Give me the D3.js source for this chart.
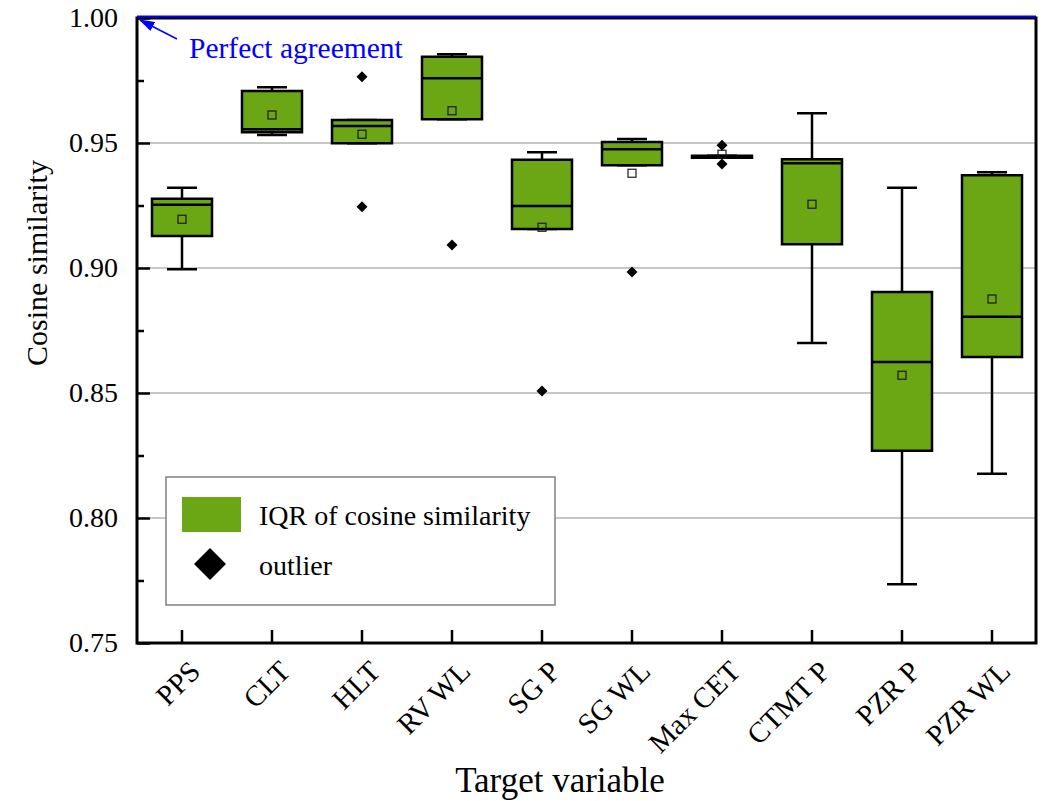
<html>
<head>
  <meta charset="utf-8">
  <title>Cosine similarity box plot</title>
  <script src="https://d3js.org/d3.v7.min.js"></script>
  <style>
    body { margin: 0; background: #ffffff; }
    text { font-family: "Liberation Serif", "Times New Roman", serif; }
  </style>
</head>
<body>
  <svg id="chart" width="1046" height="801"></svg>
  <script>
    // values
    var categories = ["PPS", "CLT", "HLT", "RV WL", "SG P", "SG WL", "Max CET", "CTMT P", "PZR P", "PZR WL"];
    var whiskerHigh = [0.9321, 0.9723, 0.9592, 0.9855, 0.9463, 0.9516, 0.9449, 0.9619, 0.9321, 0.9383];
    var q3 = [0.9277, 0.9708, 0.9592, 0.9845, 0.9433, 0.9504, 0.9449, 0.9435, 0.8904, 0.9371];
    var median = [0.9253, 0.9555, 0.9568, 0.9759, 0.9248, 0.9475, 0.9445, 0.9419, 0.8624, 0.8805];
    var q1 = [0.9128, 0.9543, 0.9499, 0.9595, 0.9156, 0.9411, 0.9441, 0.9095, 0.8269, 0.8644];
    var whiskerLow = [0.8995, 0.9532, 0.9499, 0.9595, 0.9156, 0.9411, 0.9441, 0.8700, 0.7735, 0.8177];
    var means = [0.9195, 0.9612, 0.9535, 0.9629, 0.9163, 0.9379, 0.9455, 0.9255, 0.8571, 0.8876];
    var outliers = [[], [], [0.9765, 0.9245], [0.9092], [0.8508], [0.8984], [0.9491, 0.9416], [], [], []];
    var yTicks = [0.75, 0.80, 0.85, 0.90, 0.95, 1.00];
    var yMinorTicks = [0.775, 0.825, 0.875, 0.925, 0.975];
    var gridTicks = [0.80, 0.85, 0.90, 0.95];
    var perfect = 1.00;

    var green = "#6ba614";
    var plotL = 137, plotR = 1036, plotT = 18, plotB = 643;

    var data = categories.map(function (c, i) {
      return { cat: c, hi: whiskerHigh[i], q3: q3[i], med: median[i], q1: q1[i], lo: whiskerLow[i], mean: means[i], out: outliers[i] };
    });

    var svg = d3.select("#chart");

    var xScale = d3.scaleBand()
      .domain(categories)
      .range([plotL, plotR + 1])
      .padding(0);

    var yScale = d3.scaleLinear()
      .domain([0.75, 1.0])
      .range([plotB, plotT]);

    var bw = xScale.bandwidth() * 2 / 3;
    var capW = xScale.bandwidth() / 3;
    function cx(d) { return xScale(d.cat) + xScale.bandwidth() / 2; }

    // grid lines
    svg.append("g")
      .selectAll("line")
      .data(gridTicks)
      .enter()
      .append("line")
      .attr("x1", plotL).attr("x2", plotR)
      .attr("y1", d => yScale(d)).attr("y2", d => yScale(d))
      .attr("stroke", "#b4b4b4")
      .attr("stroke-width", 1.5);

    var boxes = svg.append("g")
      .selectAll("g")
      .data(data)
      .enter()
      .append("g");

    // whiskers
    boxes.append("line")
      .attr("x1", cx).attr("x2", cx)
      .attr("y1", d => yScale(d.hi)).attr("y2", d => yScale(d.q3))
      .attr("stroke", "black").attr("stroke-width", 2.5);
    boxes.append("line")
      .attr("x1", cx).attr("x2", cx)
      .attr("y1", d => yScale(d.q1)).attr("y2", d => yScale(d.lo))
      .attr("stroke", "black").attr("stroke-width", 2.5);
    boxes.append("line")
      .attr("x1", d => cx(d) - capW / 2).attr("x2", d => cx(d) + capW / 2)
      .attr("y1", d => yScale(d.hi)).attr("y2", d => yScale(d.hi))
      .attr("stroke", "black").attr("stroke-width", 2.5);
    boxes.append("line")
      .attr("x1", d => cx(d) - capW / 2).attr("x2", d => cx(d) + capW / 2)
      .attr("y1", d => yScale(d.lo)).attr("y2", d => yScale(d.lo))
      .attr("stroke", "black").attr("stroke-width", 2.5);

    // IQR box
    boxes.append("rect")
      .attr("x", d => cx(d) - bw / 2)
      .attr("y", d => yScale(d.q3))
      .attr("width", bw)
      .attr("height", d => Math.max(yScale(d.q1) - yScale(d.q3), 0.5))
      .attr("fill", green)
      .attr("stroke", "black")
      .attr("stroke-width", 2.5);

    // median
    boxes.append("line")
      .attr("x1", d => cx(d) - bw / 2).attr("x2", d => cx(d) + bw / 2)
      .attr("y1", d => yScale(d.med)).attr("y2", d => yScale(d.med))
      .attr("stroke", "black").attr("stroke-width", 2.5);

    // mean marker
    boxes.append("rect")
      .attr("x", d => cx(d) - 4)
      .attr("y", d => yScale(d.mean) - 4)
      .attr("width", 8).attr("height", 8)
      .attr("fill", "none")
      .attr("stroke", "#1a1a1a")
      .attr("stroke-width", 1.2);

    // outliers
    var diamond = d3.symbol().type(d3.symbolDiamond2).size(78);
    boxes.each(function (d) {
      d3.select(this).selectAll("path.out")
        .data(d.out)
        .enter()
        .append("path")
        .attr("class", "out")
        .attr("d", diamond)
        .attr("transform", v => "translate(" + cx(d) + "," + yScale(v) + ")")
        .attr("fill", "black");
    });

    // legend
    var legend = svg.append("g");
    legend.append("rect")
      .attr("x", 166).attr("y", 477).attr("width", 389).attr("height", 128)
      .attr("fill", "white").attr("stroke", "#808080").attr("stroke-width", 1.5);
    legend.append("rect")
      .attr("x", 182).attr("y", 497).attr("width", 59).attr("height", 35)
      .attr("fill", green);
    legend.append("path")
      .attr("d", d3.symbol().type(d3.symbolDiamond2).size(650))
      .attr("transform", "translate(210,564)")
      .attr("fill", "black");
    legend.append("text")
      .attr("x", 259).attr("y", 525)
      .attr("font-size", 28)
      .text("IQR of cosine similarity");
    legend.append("text")
      .attr("x", 259).attr("y", 575)
      .attr("font-size", 28)
      .text("outlier");

    // axes
    var yAxis = svg.append("g")
      .attr("transform", "translate(" + plotL + ",0)")
      .call(d3.axisLeft(yScale).tickValues(yTicks).tickFormat(d3.format(".2f"))
        .tickSizeInner(-13).tickSizeOuter(0).tickPadding(19));
    yAxis.selectAll("text").attr("font-size", 28).attr("fill", "black")
      .style("font-family", "'Liberation Serif', 'Times New Roman', serif");
    yAxis.selectAll("line").attr("stroke-width", 2.5);

    var yMinor = svg.append("g")
      .attr("transform", "translate(" + plotL + ",0)")
      .call(d3.axisLeft(yScale).tickValues(yMinorTicks).tickFormat("")
        .tickSizeInner(-7).tickSizeOuter(0));
    yMinor.selectAll("line").attr("stroke-width", 2.5);

    var xAxis = svg.append("g")
      .attr("transform", "translate(0," + plotB + ")")
      .call(d3.axisBottom(xScale).tickSizeInner(-13).tickSizeOuter(0));
    xAxis.selectAll("line").attr("stroke-width", 2.5);
    xAxis.selectAll("text")
      .attr("font-size", 29)
      .attr("fill", "black")
      .style("font-family", "'Liberation Serif', 'Times New Roman', serif")
      .attr("text-anchor", "end")
      .attr("y", 0).attr("dy", 0)
      .attr("transform", "translate(20,30) rotate(-45)");

    svg.selectAll(".domain").remove();

    // frame
    svg.append("rect")
      .attr("x", plotL).attr("y", plotT)
      .attr("width", plotR - plotL).attr("height", plotB - plotT)
      .attr("fill", "none").attr("stroke", "black").attr("stroke-width", 3);

    // perfect agreement line
    svg.append("line")
      .attr("x1", plotL).attr("x2", plotR)
      .attr("y1", yScale(perfect) - 1.5).attr("y2", yScale(perfect) - 1.5)
      .attr("stroke", "#0000ff").attr("stroke-width", 2);

    svg.append("defs").append("marker")
      .attr("id", "arrow")
      .attr("viewBox", "0 0 10 10")
      .attr("refX", 9).attr("refY", 5)
      .attr("markerWidth", 16).attr("markerHeight", 10)
      .attr("markerUnits", "userSpaceOnUse")
      .attr("orient", "auto")
      .attr("preserveAspectRatio", "none")
      .append("path")
      .attr("d", "M0,0 L10,5 L0,10 Z")
      .attr("fill", "#0000ff");

    svg.append("line")
      .attr("x1", 177).attr("y1", 39)
      .attr("x2", 140).attr("y2", 20)
      .attr("stroke", "#0000ff").attr("stroke-width", 1.5)
      .attr("marker-end", "url(#arrow)");

    svg.append("text")
      .attr("x", 189).attr("y", 58)
      .attr("font-size", 29.5)
      .attr("fill", "#0000ff")
      .text("Perfect agreement");

    // axis titles
    svg.append("text")
      .attr("transform", "translate(47,263) rotate(-90)")
      .attr("text-anchor", "middle")
      .attr("font-size", 30)
      .text("Cosine similarity");

    svg.append("text")
      .attr("x", 560).attr("y", 792)
      .attr("text-anchor", "middle")
      .attr("font-size", 35)
      .text("Target variable");
  </script>
</body>
</html>
